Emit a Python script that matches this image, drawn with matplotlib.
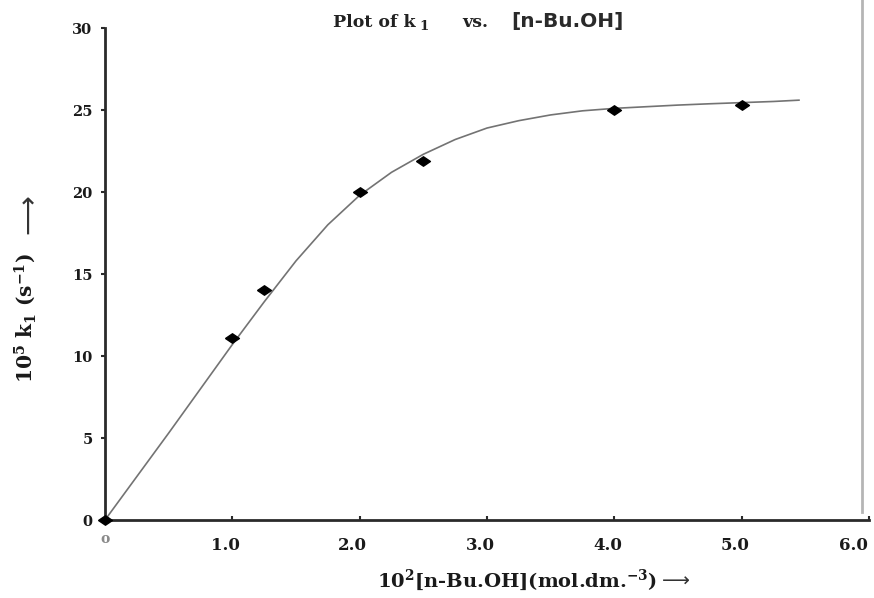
import matplotlib
matplotlib.use("Agg")
import matplotlib.pyplot as plt
import matplotlib.transforms as mtransforms
from matplotlib.lines import Line2D

# Data
conc = [0.0, 1.0, 1.25, 2.0, 2.5, 4.0, 5.0]
k1 = [0.0, 11.1, 14.0, 20.0, 21.9, 25.0, 25.3]

# Fitted curve
curve_x = [0.0, 0.25, 0.5, 0.75, 1.0, 1.25, 1.5, 1.75, 2.0, 2.25, 2.5, 2.75,
           3.0, 3.25, 3.5, 3.75, 4.0, 4.25, 4.5, 4.75, 5.0, 5.25, 5.45]
curve_y = [0.0, 2.65, 5.3, 8.0, 10.7, 13.3, 15.8, 18.0, 19.8, 21.2, 22.3, 23.2,
           23.9, 24.35, 24.7, 24.95, 25.1, 25.2, 25.3, 25.38, 25.45, 25.52, 25.6]

xticks = [0, 1, 2, 3, 4, 5, 6]
xticklabels = ["", "1.0", "2.0", "3.0", "4.0", "5.0", "6.0"]
yticks = [0, 5, 10, 15, 20, 25, 30]

plt.rcParams['mathtext.fontset'] = 'custom'
plt.rcParams['mathtext.rm'] = 'DejaVu Serif:bold'
plt.rcParams['mathtext.it'] = 'DejaVu Serif:bold'
plt.rcParams['mathtext.bf'] = 'DejaVu Serif:bold'
plt.rcParams['mathtext.default'] = 'rm'

serif = "DejaVu Serif"
W, H = 874, 598

def fx(px):
    return px / W

def fy(py):
    return 1 - py / H

fig = plt.figure(figsize=(8.74, 5.98), dpi=100)
ax = fig.add_axes([fx(105), fy(520), 764 / W, 492 / H])

ax.plot(curve_x, curve_y, color="#737373", lw=1.2, zorder=2)
diamond = [(-1, 0), (0, 0.68), (1, 0), (0, -0.68), (-1, 0)]
ax.plot(conc, k1, linestyle="none", marker=diamond, markersize=10,
        color="black", zorder=3, clip_on=False)

ax.set_xlim(0, 6)
ax.set_ylim(0, 30)
ax.set_xticks(xticks)
ax.set_xticklabels([])
ax.set_yticks(yticks)
for s in ["top", "right"]:
    ax.spines[s].set_visible(False)
for s in ["left", "bottom"]:
    ax.spines[s].set_linewidth(2)
    ax.spines[s].set_color("#2a2a2a")
ax.tick_params(axis="y", direction="out", length=3, width=1.5, pad=6,
               color="#2a2a2a")
ax.tick_params(axis="x", direction="in", length=3, width=1.5,
               color="#2a2a2a")
for lab in ax.get_yticklabels():
    lab.set_fontfamily(serif)
    lab.set_fontweight("bold")
    lab.set_fontsize(10.5)
    lab.set_color("#1a1a1a")

# x tick labels (slightly left of the ticks, as in the reference)
for xv, txt in zip(xticks, xticklabels):
    if not txt:
        continue
    if xv == xticks[-1]:
        off = mtransforms.ScaledTranslation(-1 / 100, -30 / 100, fig.dpi_scale_trans)
        ha = "right"
    else:
        off = mtransforms.ScaledTranslation(-7 / 100, -30 / 100, fig.dpi_scale_trans)
        ha = "center"
    ax.text(xv, 0, txt, transform=ax.get_xaxis_transform() + off,
            ha=ha, va="baseline", family=serif, fontweight="bold",
            fontsize=12, color="#1a1a1a", clip_on=False)

# origin label
fig.text(fx(105), fy(539), "o", ha="center", va="center", fontsize=10,
         color="#8a8a8a", family=serif, fontweight="bold")

# title
tb = fy(27)
fig.text(fx(333), tb, "Plot of k", family=serif, fontweight="bold",
         fontsize=12.5, ha="left", va="baseline", color="#222222")
fig.text(fx(419), fy(30), "1", family=serif, fontweight="bold",
         fontsize=9.5, ha="left", va="baseline", color="#222222")
fig.text(fx(462), tb, "vs.", family=serif, fontweight="bold",
         fontsize=12.5, ha="left", va="baseline", color="#222222")
fig.text(fx(511), tb, "[n-Bu.OH]", family="DejaVu Sans", fontweight="bold",
         fontsize=14.5, ha="left", va="baseline", color="#2a2a2a")

# x label
fig.text(fx(517), fy(587), "10$^{2}$[n-Bu.OH](mol.dm.$^{-3}$)",
         family=serif, fontweight="bold", fontsize=14,
         ha="center", va="baseline", color="#1a1a1a")
fig.text(fx(676), fy(587), "\u27f6", family="DejaVu Sans", fontsize=14,
         ha="center", va="baseline", color="#333333")

# y label
fig.text(fx(25), fy(383), "10$^{5}$ k$_{1}$ (s$^{-1}$)",
         family=serif, fontweight="bold", fontsize=14.5,
         rotation=90, ha="center", va="bottom", color="#1a1a1a")
fig.text(fx(28), fy(214), "\u27f6", family="DejaVu Sans", fontsize=20,
         rotation=90, ha="center", va="center", color="#333333")

# gray vertical border line at right
fig.add_artist(Line2D([fx(862), fx(862)], [fy(512), 1.0],
                      transform=fig.transFigure, color="#b5b5b5", lw=2))

fig.savefig("out.png", dpi=100)
